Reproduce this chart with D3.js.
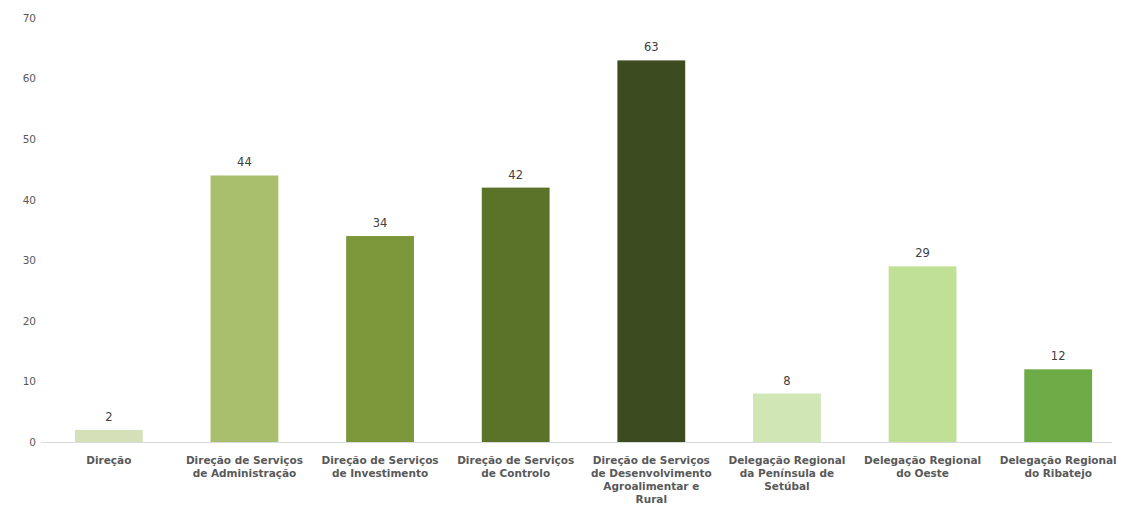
<!DOCTYPE html>
<html>
<head>
<meta charset="utf-8">
<script src="https://cdn.jsdelivr.net/npm/d3@7"></script>
<style>
body { margin: 0; background: #fff; }
text { font-family: "DejaVu Sans", Verdana, sans-serif; }
</style>
</head>
<body>
<svg id="chart"></svg>
<script>
// dados
var categories = [
  ["Direção"],
  ["Direção de Serviços", "de Administração"],
  ["Direção de Serviços", "de Investimento"],
  ["Direção de Serviços", "de Controlo"],
  ["Direção de Serviços", "de Desenvolvimento", "Agroalimentar e", "Rural"],
  ["Delegação Regional", "da Península de", "Setúbal"],
  ["Delegação Regional", "do Oeste"],
  ["Delegação Regional", "do Ribatejo"]
];
var values = [2, 44, 34, 42, 63, 8, 29, 12];
var yTicks = [0, 10, 20, 30, 40, 50, 60, 70];
var barColors = ["#d5e0b8", "#a9bf6d", "#7b973a", "#5b7229", "#3d4b20", "#d0e6b4", "#bfe095", "#6dab47"];

var width = 1126, height = 507;
var margin = {top: 18, right: 0, bottom: 65, left: 41};

var svg = d3.select("svg#chart")
    .attr("width", width)
    .attr("height", height);

var x = d3.scaleBand()
    .domain(d3.range(values.length))
    .range([margin.left, width - margin.right])
    .paddingInner(0.5)
    .paddingOuter(0.25);

var y = d3.scaleLinear()
    .domain([0, 70])
    .range([height - margin.bottom, margin.top]);

// eixo y (so os numeros)
var yAxis = svg.append("g")
    .attr("transform", `translate(${margin.left - 5},0)`)
    .call(d3.axisLeft(y).tickValues(yTicks).tickSize(0).tickPadding(0));
yAxis.select(".domain").remove();
yAxis.selectAll("text")
    .style("fill", "#595959")
    .style("font-family", "'DejaVu Sans', sans-serif")
    .style("font-size", "10.5px");

// linha de base
svg.append("line")
    .attr("x1", margin.left)
    .attr("x2", width - 14)
    .attr("y1", y(0) + 0.5)
    .attr("y2", y(0) + 0.5)
    .style("stroke", "#d9d9d9")
    .style("stroke-width", 1);

var bars = svg.selectAll("rect.bar")
    .data(values);

bars.enter()
    .append("rect")
    .attr("class", "bar")
    .attr("x", function(d, i){ return x(i) })
    .attr("y", function(d){ return y(d) })
    .attr("width", x.bandwidth())
    .attr("height", function(d){ return y(0) - y(d) })
    .style("fill", function(d, i){ return barColors[i] });

svg.selectAll("text.val")
    .data(values)
    .enter()
    .append("text")
    .attr("class", "val")
    .text(function(d){ return d })
    .attr("x", function(d, i){ return x(i) + x.bandwidth() / 2 })
    .attr("y", function(d){ return y(d) - 9 })
    .attr("text-anchor", "middle")
    .style("fill", "#404040")
    .style("font-size", "11.5px");

// rotulos das categorias
var labels = svg.selectAll("text.cat")
    .data(categories)
    .enter()
    .append("text")
    .attr("class", "cat")
    .attr("text-anchor", "middle")
    .attr("transform", function(d, i){
        return `translate(${x(i) + x.bandwidth() / 2} ${y(0) + 22})`
    })
    .style("fill", "#595959")
    .style("font-size", "10.5px")
    .style("font-weight", "bold");

labels.selectAll("tspan")
    .data(function(d){ return d })
    .enter()
    .append("tspan")
    .attr("x", 0)
    .attr("y", function(d, i){ return i * 13 })
    .text(function(d){ return d });
</script>
</body>
</html>
